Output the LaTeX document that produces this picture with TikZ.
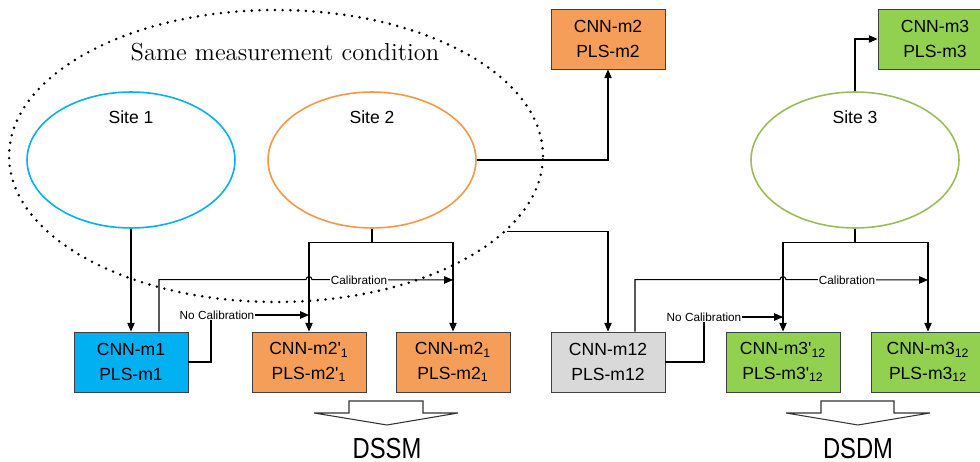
\documentclass[tikz,border=0pt]{standalone}
\usepackage{fontspec}
\newfontfamily\arialf{Liberation Sans}
\newfontfamily\narrowf[FakeStretch=0.82]{Liberation Sans}
\usetikzlibrary{arrows.meta, positioning, shapes.geometric, calc}
\definecolor{siteblue}{RGB}{0,176,240}
\definecolor{siteorange}{RGB}{247,150,70}
\definecolor{sitegreen}{RGB}{155,187,89}
\definecolor{boxblue}{RGB}{0,176,240}
\definecolor{boxorange}{RGB}{245,158,90}
\definecolor{boxgreen}{RGB}{146,208,80}
\definecolor{boxgray}{RGB}{217,217,217}

\begin{document}
\begin{tikzpicture}[
            x=0.02cm, y=-0.02cm,
            samecond/.style={ellipse, draw, line width=1.6pt, dash pattern=on 0pt off 4.4pt,
                        line cap=round, minimum width=10.68cm, minimum height=5.84cm},
            site/.style={ellipse, line width=0.9pt, minimum width=4.16cm, minimum height=2.72cm, inner sep=0pt},
            sitelbl/.style={font=\arialf\fontsize{10}{12}\selectfont},
            model/.style={draw=black!75, line width=0.5pt, minimum width=2.28cm, minimum height=1.2cm,
                        font=\arialf\fontsize{10}{14}\selectfont, align=center, inner sep=0pt},
            arr/.style={-{Triangle[length=5pt, width=4.2pt]}, line width=0.6pt},
            lnk/.style={line width=0.6pt},
            tag/.style={fill=white, inner sep=0.6pt, font=\arialf\fontsize{6.7}{8}\selectfont},
            bigarr/.style={draw=black!80, line width=0.6pt, fill=white},
            bigtxt/.style={font=\narrowf\fontsize{16.5}{18}\selectfont, anchor=base}
          ]
          \useasboundingbox (0,0) rectangle (980,462);
          % measurement condition and sites
          \node[samecond] (same) at (276,156) {};
          \node[font=\fontsize{14}{16}\selectfont] (samelbl) at (285,52) {Same measurement condition};
          \node[site, draw=siteblue]   (s1) at (131,160) {};
          \node[site, draw=siteorange] (s2) at (372,160) {};
          \node[site, draw=sitegreen]  (s3) at (855,160) {};
          \node[sitelbl] (s1lbl) at (131,117) {Site 1};
          \node[sitelbl] (s2lbl) at (372,117) {Site 2};
          \node[sitelbl] (s3lbl) at (855,117) {Site 3};
          % models
          \node[model, fill=boxorange] (m2)  at (608,39)  {CNN-m2\\PLS-m2};
          \node[model, fill=boxgreen]  (m3)  at (935,39)  {CNN-m3\\PLS-m3};
          \node[model, fill=boxblue]   (m1)  at (131,362) {CNN-m1\\PLS-m1};
          \node[model, fill=boxorange] (m2p) at (309,362) {CNN-m2\textquotesingle\textsubscript{1}\\PLS-m2\textquotesingle\textsubscript{1}};
          \node[model, fill=boxorange] (m2c) at (453,362) {CNN-m2\textsubscript{1}\\PLS-m2\textsubscript{1}};
          \node[model, fill=boxgray]   (m12) at (608,362) {CNN-m12\\PLS-m12};
          \node[model, fill=boxgreen]  (m3p) at (783,362) {CNN-m3\textquotesingle\textsubscript{12}\\PLS-m3\textquotesingle\textsubscript{12}};
          \node[model, fill=boxgreen]  (m3c) at (928,362) {CNN-m3\textsubscript{12}\\PLS-m3\textsubscript{12}};
          % site links
          \draw[arr] (s1) -- (m1);
          \draw[arr] (s2.east) -| (m2.south);
          \draw[arr] (s3.north) |- (m3.west);
          \draw[arr] (s2.south) -- ++(0,14) -| (m2p.north);
          \draw[arr] (s2.south) -- ++(0,14) -| (m2c.north);
          \draw[arr] (s3.south) -- ++(0,14) -| (m3p.north);
          \draw[arr] (s3.south) -- ++(0,14) -| (m3c.north);
          \draw[arr] (same.-18) -| (m12.north);
          % calibration links
          \draw[arr] ([xshift=0.56cm]m1.north) |- ($(m2p.north)+(-3,-52)$)
                arc[start angle=180, end angle=0, radius=1.7pt] -- (m2c.north |- 0,280);
          \node[tag] (cal1) at (359,280) {Calibration};
          \draw[arr] (m1.east) -| (211,315) -- (m2p.north |- 0,315);
          \node[tag] (nocal1) at (217,315) {No Calibration};
          \draw[arr] ([xshift=0.54cm]m12.north) |- ($(m3p.north)+(-3,-52)$)
                arc[start angle=180, end angle=0, radius=1.7pt] -- (m3c.north |- 0,280);
          \node[tag] (cal2) at (847,280) {Calibration};
          \draw[arr] (m12.east) -| (704,317) -- (m3p.north |- 0,317);
          \node[tag] (nocal2) at (704,317) {No Calibration};
          % summary arrows
          \draw[bigarr] (349,413) -- (349,401) -- (423,401) -- (423,413) -- (458,413) -- (387,425) -- (314,413) -- cycle;
          \draw[bigarr] (821,413) -- (821,401) -- (894,401) -- (894,413) -- (930,413) -- (858,425) -- (786,413) -- cycle;
          \node[bigtxt] (dssm) at (387,458) {DSSM};
          \node[bigtxt] (dsdm) at (858,458) {DSDM};
        \end{tikzpicture}
\end{document}
